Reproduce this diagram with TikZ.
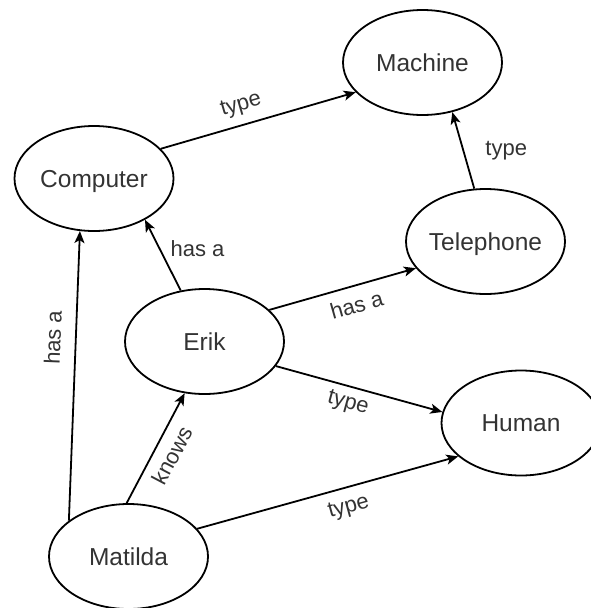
\documentclass[tikz,border=0pt]{standalone}
\usepackage{fontspec}
\setmainfont{Liberation Sans}
\usetikzlibrary{shapes.geometric,arrows.meta}
\begin{document}
\begin{tikzpicture}[x=1pt,y=-1pt,
  concept/.style={ellipse, draw, line width=1.8pt, minimum width=159pt,
    minimum height=105pt, inner sep=0pt, text=black!80,
    font=\fontsize{24.5}{24.5}\selectfont, text height=17.6pt, text depth=0pt},
  rel/.style={line width=1.8pt, -{Stealth[length=12pt,width=10pt,inset=3pt]}},
  lbl/.style={font=\fontsize{22}{22}\selectfont, text=black!80, inner sep=3pt}]
\useasboundingbox (0,0) rectangle (590,608);

% concepts
\node[concept] (machine)   at (422.5,62.5)  {\makebox[0pt]{Machine}};
\node[concept] (computer)  at (94,178.5)    {\makebox[0pt]{Computer}};
\node[concept] (telephone) at (485.5,241.5) {\makebox[0pt]{Telephone}};
\node[concept] (erik)      at (204.5,341.5) {\makebox[0pt]{Erik}};
\node[concept] (human)     at (521,423)     {\makebox[0pt]{Human}};
\node[concept] (matilda)   at (128.5,556.5) {\makebox[0pt]{Matilda}};

% relations
\draw[rel] (computer.24) -- node[lbl, pos=0.44, sloped, above=6pt] {type} (machine.204);
\draw[rel] (telephone.102) -- node[lbl, pos=0.49, right=18pt] {type} (machine.301);
\draw[rel] (erik.115) -- node[lbl, pos=0.59, right=7pt] {has a} (computer.321);
\draw[rel] (erik.26) -- node[lbl, pos=0.56, sloped, below=7pt] {has a} (telephone.201);
\draw[rel] (erik.341) -- node[lbl, pos=0.46, sloped, below=4pt] {type} (human.172);
\draw[rel] (matilda.22) -- node[lbl, pos=0.56, sloped, below=7pt] {type} (human.208);
\draw[rel] (matilda.92) -- node[lbl, pos=0.51, sloped, below=6pt] {knows} (erik.249);
\draw[rel] (matilda.149) -- node[lbl, pos=0.63, sloped, above=11pt] {has a} (computer.255);
\end{tikzpicture}
\end{document}
